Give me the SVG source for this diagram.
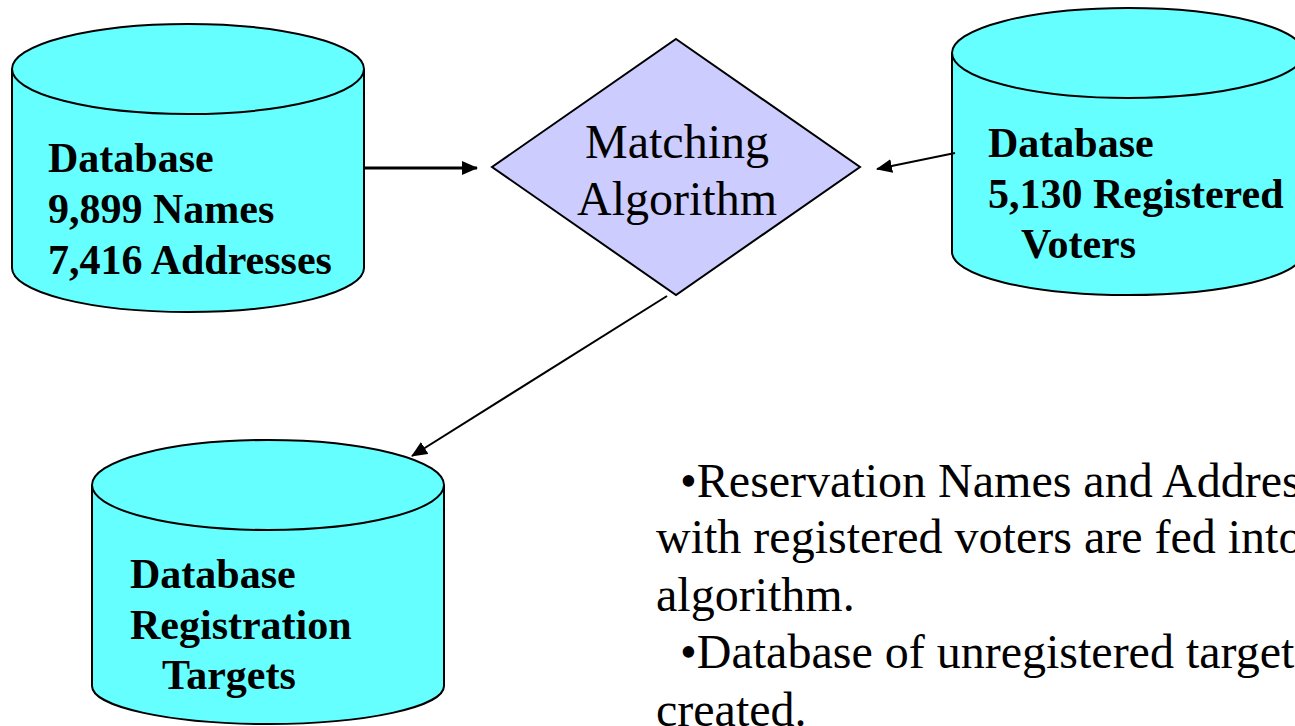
<svg xmlns="http://www.w3.org/2000/svg" width="1295" height="726" viewBox="0 0 1295 726">
<style>
.cyl{fill:#66FFFF;stroke:#000;stroke-width:2}
.lbl{font-family:"Liberation Serif",serif;font-weight:bold;font-size:42px;fill:#000}
.dia{font-family:"Liberation Serif",serif;font-size:48px;fill:#000;text-anchor:middle}
.body{font-family:"Liberation Serif",serif;font-size:48px;fill:#000}
.con{stroke:#000;fill:none}
</style>
<defs>
<marker id="ah" markerWidth="16" markerHeight="14" refX="15" refY="7" orient="auto" markerUnits="userSpaceOnUse" viewBox="0 0 16 14">
<path d="M0,0 L16,7 L0,14 Z" fill="#000"/>
</marker>
</defs>
<rect width="1295" height="726" fill="#fff"/>
<g id="db-names">
<path class="cyl" d="M12,69 L12,268 A176,44 0 0 0 364,268 L364,69 A176,45 0 0 0 12,69 Z"/>
<path class="cyl" d="M12,69 A176,45 0 0 0 364,69"/>
<text class="lbl" x="48" y="172">Database</text>
<text class="lbl" x="48" y="223">9,899 Names</text>
<text class="lbl" x="48" y="274">7,416 Addresses</text>
</g>
<g id="matching">
<polygon points="676,39 860,167 676,295 492,167" fill="#CCCCFF" stroke="#000" stroke-width="2"/>
<text class="dia" x="677" y="158">Matching</text>
<text class="dia" x="677" y="215">Algorithm</text>
</g>
<g id="db-voters">
<path class="cyl" d="M952,53 L952,252 A176,43 0 0 0 1304,252 L1304,53 A176,45 0 0 0 952,53 Z"/>
<path class="cyl" d="M952,53 A176,45 0 0 0 1304,53"/>
<text class="lbl" x="988" y="157">Database</text>
<text class="lbl" x="988" y="208">5,130 Registered</text>
<text class="lbl" x="1021" y="258">Voters</text>
</g>
<g id="db-targets">
<path class="cyl" d="M92,485 L92,686 A176,38 0 0 0 444,686 L444,485 A176,45 0 0 0 92,485 Z"/>
<path class="cyl" d="M92,485 A176,45 0 0 0 444,485"/>
<text class="lbl" x="130" y="588">Database</text>
<text class="lbl" x="130" y="639">Registration</text>
<text class="lbl" x="162" y="689">Targets</text>
</g>
<g id="connectors">
<line class="con" stroke-width="3" x1="365" y1="168" x2="477" y2="168" marker-end="url(#ah)"/>
<line class="con" stroke-width="2" x1="955" y1="153" x2="877" y2="169" marker-end="url(#ah)"/>
<line class="con" stroke-width="2" x1="667" y1="296" x2="412" y2="456" marker-end="url(#ah)"/>
</g>
<g id="notes">
<text class="body" x="680" y="497">•Reservation Names and Addresses</text>
<text class="body" x="656" y="553">with registered voters are fed into</text>
<text class="body" x="656" y="611">algorithm.</text>
<text class="body" x="680" y="668">•Database of unregistered targets</text>
<text class="body" x="656" y="726">created.</text>
</g>
</svg>
